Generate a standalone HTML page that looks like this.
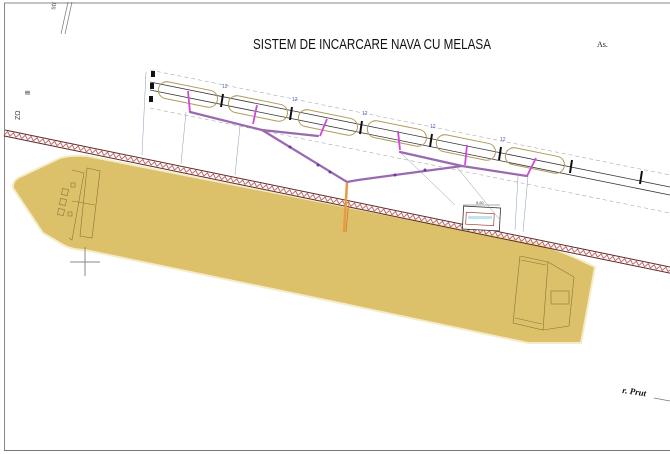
<!DOCTYPE html>
<html><head><meta charset="utf-8"><style>
html,body{margin:0;padding:0;background:#fff;}
svg{display:block;}
</style></head><body>
<svg width="670" height="454" viewBox="0 0 670 454" xmlns="http://www.w3.org/2000/svg" font-family="Liberation Sans, sans-serif">
<defs>
<pattern id="zz" x="0" y="0" width="6" height="6" patternUnits="userSpaceOnUse">
<path d="M0 5 L3 1 L6 5" fill="none" stroke="#b04040" stroke-width="0.8"/>
</pattern>
</defs>
<rect x="0" y="0" width="670" height="454" fill="#fff"/>
<!-- frame -->
<line x1="4" y1="3" x2="670" y2="3" stroke="#888" stroke-width="1"/>
<line x1="4.5" y1="3" x2="4.5" y2="450" stroke="#888" stroke-width="1"/>
<line x1="4" y1="450.5" x2="670" y2="450.5" stroke="#777" stroke-width="1"/>
<!-- top-left street lines -->
<line x1="68" y1="2" x2="61" y2="34" stroke="#777" stroke-width="0.7"/>
<line x1="72" y1="2" x2="65" y2="34" stroke="#777" stroke-width="0.7"/>
<text x="55" y="10" font-size="7" fill="#555" transform="rotate(-80 55 10)">str</text>
<text x="30" y="95" font-size="7" fill="#444" transform="rotate(-90 30 95)">Ⅲ</text>
<text x="20" y="120" font-size="7" fill="#444" transform="rotate(-90 20 120)">ZΩ</text>
<!-- title -->
<text x="253" y="49" font-size="15" fill="#111" textLength="238" lengthAdjust="spacingAndGlyphs">SISTEM DE INCARCARE NAVA CU MELASA</text>
<text x="597" y="47" font-size="8" font-family="Liberation Serif, serif" fill="#222">As.</text>

<!-- ship hull -->
<path d="M13 188 Q12 180 22 176 L60 158 Q70 155 87 156 L542 245 Q560 250 595 267 L581 343 L528 343 L335 302 L85 250 Q70 250 60 243 L43 233 Z" fill="#dcc06a" stroke="#f4ecc8" stroke-width="2"/>
<!-- ship details bow -->
<g stroke="#8a7438" stroke-width="0.6" fill="none">
<path d="M87 168 L100 171 L92 238 L80 236 Z"/>
<path d="M72 170 L84 173 L72 240 L69 238"/>
<line x1="72" y1="201" x2="95" y2="205"/>
<rect x="62" y="189" width="6" height="6" transform="rotate(11 65 192)"/>
<rect x="60" y="199" width="6" height="6" transform="rotate(11 63 202)"/>
<rect x="58" y="209" width="6" height="6" transform="rotate(11 61 212)"/>
<rect x="71" y="183" width="4" height="4"/>
<rect x="68" y="212" width="4" height="4"/>
<!-- stern -->
<path d="M520 256 L548 262 L543 330 L513 323 Z"/>
<path d="M548 262 L574 277 L569 326 L543 330"/>
<rect x="551" y="291" width="18" height="13"/>
<path d="M521 260 L546 265"/><path d="M515 318 L542 324"/>
</g>
<!-- crosshair -->
<g stroke="#888" stroke-width="1">
<line x1="85" y1="247" x2="85" y2="276"/><line x1="70" y1="262" x2="100" y2="262"/>
</g>

<!-- quay -->
<g transform="translate(5 130) rotate(11.64)">
<rect x="0" y="0" width="700" height="6" fill="url(#zz)"/>
<line x1="0" y1="0" x2="700" y2="0" stroke="#5a2a2a" stroke-width="1"/>
<line x1="0" y1="6" x2="700" y2="6" stroke="#5a2a2a" stroke-width="1"/>
</g>
<!-- box on quay -->
<rect x="463" y="207" width="37" height="23" fill="#fff" stroke="#333" stroke-width="0.8" transform="rotate(3 481 218)"/>
<rect x="466" y="213" width="28" height="12" fill="#fff" stroke="#a04040" stroke-width="0.7" transform="rotate(3 481 218)"/>
<rect x="468" y="216" width="24" height="3" fill="#bfe6ec"/>
<line x1="463" y1="205" x2="500" y2="205" stroke="#555" stroke-width="0.5"/>
<text x="476" y="204" font-size="4" fill="#444">5,60</text>

<!-- dimension lines (thin blue-grey) -->
<g stroke="#8a9ab0" stroke-width="0.5">
<line x1="146" y1="72" x2="142" y2="155"/>
<line x1="186" y1="112" x2="181" y2="164"/>
<line x1="240" y1="126" x2="235" y2="175"/>
<line x1="400" y1="152" x2="455" y2="205"/>
<line x1="455" y1="165" x2="500" y2="220"/>
<line x1="518" y1="176" x2="515" y2="230"/>
<line x1="528" y1="176" x2="523" y2="232"/>
</g>

<!-- rails and dashed lines -->
<g stroke="#333" stroke-width="0.8">
<line x1="150" y1="82" x2="670" y2="187"/>
<line x1="150" y1="90" x2="670" y2="195"/>
</g>
<g stroke="#aaa" stroke-width="0.6" stroke-dasharray="4 3">
<line x1="150" y1="70" x2="670" y2="175"/>
<line x1="150" y1="108" x2="670" y2="213"/>
</g>
<!-- tanks -->
<g fill="none" stroke="#b09a5a" stroke-width="1">
<rect x="158" y="86" width="60" height="17" rx="8.5" transform="rotate(11.5 188 94)"/>
<rect x="228" y="100" width="60" height="17" rx="8.5" transform="rotate(11.5 258 108)"/>
<rect x="298" y="114" width="60" height="17" rx="8.5" transform="rotate(11.5 328 122)"/>
<rect x="367" y="125" width="60" height="17" rx="8.5" transform="rotate(11.5 397 133)"/>
<rect x="436" y="139" width="60" height="17" rx="8.5" transform="rotate(11.5 466 147)"/>
<rect x="505" y="152" width="60" height="17" rx="8.5" transform="rotate(11.5 535 160)"/>
</g>
<!-- separators -->
<g stroke="#111" stroke-width="2">
<line x1="223" y1="94" x2="221" y2="107"/>
<line x1="292" y1="107" x2="290" y2="120"/>
<line x1="362" y1="121" x2="360" y2="134"/>
<line x1="432" y1="134" x2="430" y2="147"/>
<line x1="501" y1="147" x2="499" y2="160"/>
<line x1="572" y1="160" x2="570" y2="173"/>
<line x1="642" y1="171" x2="640" y2="184"/>
</g>
<g fill="#111">
<rect x="151" y="71" width="4" height="6"/>
<rect x="150" y="83" width="4" height="6"/>
<rect x="149" y="96" width="4" height="6"/>
</g>
<g font-size="5" fill="#5060c0">
<text x="222" y="88">12</text><text x="292" y="101">12</text><text x="362" y="115">12</text>
<text x="430" y="128">12</text><text x="500" y="141">12</text>
</g>

<!-- pipes -->
<g stroke="#9a6ab0" stroke-width="2.2" fill="none" stroke-linecap="round">
<polyline points="190,112 262,130 318,136"/>
<polyline points="262,130 347,182 358,180 462,166"/>
<polyline points="400,152 462,166 527,176"/>
</g>
<g stroke="#d048d8" stroke-width="1.8" fill="none">
<line x1="188" y1="91" x2="190" y2="112"/>
<line x1="257" y1="105" x2="253" y2="124"/>
<line x1="327" y1="119" x2="320" y2="136"/>
<line x1="398" y1="131" x2="400" y2="150"/>
<line x1="467" y1="145" x2="465" y2="165"/>
<line x1="536" y1="158" x2="527" y2="176"/>
</g>
<g fill="#6a3a9a">
<circle cx="290" cy="147" r="1.5"/><circle cx="318" cy="165" r="1.5"/><circle cx="330" cy="172" r="1.5"/>
<circle cx="395" cy="175" r="1.5"/><circle cx="425" cy="170" r="1.5"/>
</g>
<!-- orange drop -->
<line x1="347" y1="183" x2="344" y2="232" stroke="#e89a40" stroke-width="2.5"/>
<line x1="349" y1="200" x2="346" y2="232" stroke="#c06a20" stroke-width="0.6"/>

<!-- r. Prut -->
<text x="622" y="393" font-size="9" font-weight="bold" font-style="italic" font-family="Liberation Serif, serif" fill="#111" transform="rotate(8 622 393)">r. Prut</text>
<line x1="654" y1="398" x2="670" y2="401" stroke="#777" stroke-width="0.7"/>
</svg>
</body></html>
